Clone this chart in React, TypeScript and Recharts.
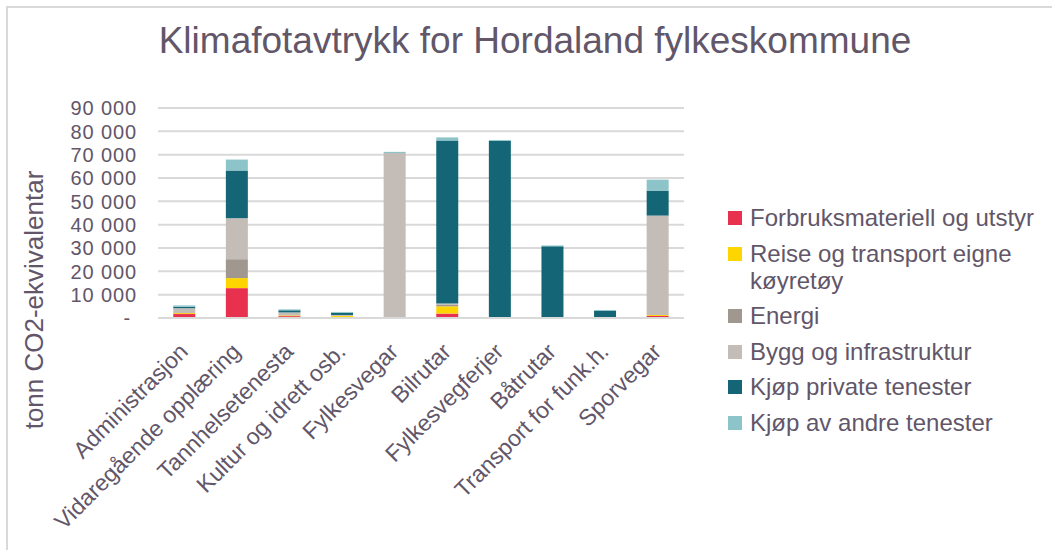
import { BarChart, Bar, XAxis, YAxis, CartesianGrid } from "recharts";

const categories = [
  "Administrasjon",
  "Vidaregående opplæring",
  "Tannhelsetenesta",
  "Kultur og idrett osb.",
  "Fylkesvegar",
  "Bilrutar",
  "Fylkesvegferjer",
  "Båtrutar",
  "Transport for funk.h.",
  "Sporvegar",
];

const forbruk = [1700, 12800, 800, 400, 0, 1900, 0, 0, 0, 900];
const reise = [400, 4300, 300, 500, 0, 3100, 0, 0, 0, 400];
const energi = [300, 8100, 100, 0, 0, 600, 0, 0, 0, 0];
const bygg = [1800, 17500, 1200, 400, 70700, 600, 300, 300, 200, 42600];
const kjopPrivate = [600, 20500, 900, 900, 0, 69900, 75600, 30400, 2800, 10700];
const kjopAndre = [600, 4700, 400, 400, 500, 1300, 400, 400, 400, 4700];

const yTicks = [0, 10000, 20000, 30000, 40000, 50000, 60000, 70000, 80000, 90000];

const series = [
  { key: "forbruk", name: "Forbruksmateriell og utstyr", color: "#e8314f", values: forbruk },
  { key: "reise", name: "Reise og transport eigne køyretøy", color: "#ffd500", values: reise },
  { key: "energi", name: "Energi", color: "#a0978f", values: energi },
  { key: "bygg", name: "Bygg og infrastruktur", color: "#c4bcb6", values: bygg },
  { key: "kjopPrivate", name: "Kjøp private tenester", color: "#146677", values: kjopPrivate },
  { key: "kjopAndre", name: "Kjøp av andre tenester", color: "#8cc4c9", values: kjopAndre },
];

const data = categories.map((name, i) => {
  const row: any = { name };
  series.forEach((s) => (row[s.key] = s.values[i]));
  return row;
});

const TEXT = "#625669";
const FONT = "'Liberation Sans', Arial, sans-serif";
const GRID = "#d9d9d9";

const fmt = (v: number) => (v === 0 ? "-" : String(v).replace(/\B(?=(\d{3})+(?!\d))/g, " "));

const XTick = ({ x, y, payload }: any) => {
  const ax = x + 5;
  const ay = y + 35;
  return (
    <text x={ax} y={ay} transform={`rotate(-45, ${ax}, ${ay})`} textAnchor="end" fill={TEXT} fontSize={23} fontFamily={FONT}>
      {payload.value}
    </text>
  );
};

// ticks are only ~23px apart, so keep the font a bit smaller and widen it with spacing
const YTick = ({ x, y, payload }: any) => (
  <text
    x={x - (payload.value === 0 ? 6 : 0)}
    y={y}
    dy="0.36em"
    textAnchor="end"
    fill={TEXT}
    fontSize={20}
    letterSpacing={0.9}
    fontFamily={FONT}
  >
    {fmt(payload.value)}
  </text>
);

// legend kept outside the chart so it doesn't eat into the plot area
const LegendBox = () => (
  <div style={{ position: "absolute", left: 728, top: 204, width: 320, fontFamily: FONT, fontSize: 24, color: TEXT, lineHeight: "27px" }}>
    {series.map((s) => (
      <div key={s.key} style={{ display: "flex", alignItems: "flex-start", marginBottom: 8.5 }}>
        <span style={{ width: 14, height: 14, background: s.color, marginTop: 7, marginRight: 8, flex: "none" }} />
        <span style={{ width: 295 }}>{s.name}</span>
      </div>
    ))}
  </div>
);

export default function App() {
  return (
    <div style={{ position: "absolute", left: 0, top: 0, width: 1052, height: 550, overflow: "hidden", background: "#fff" }}>
      <div
        style={{
          position: "absolute",
          left: 6,
          top: 6,
          width: 1100,
          height: 600,
          borderLeft: `2px solid ${GRID}`,
          borderTop: `2px solid ${GRID}`,
        }}
      />
      <div
        style={{
          position: "absolute",
          left: 0,
          top: 22,
          width: 1052,
          paddingLeft: 18,
          boxSizing: "border-box",
          textAlign: "center",
          fontFamily: FONT,
          fontSize: 37,
          lineHeight: "37px",
          color: TEXT,
        }}
      >
        Klimafotavtrykk for Hordaland fylkeskommune
      </div>
      <div style={{ position: "absolute", left: 0, top: 0 }}>
        <BarChart
          width={1052}
          height={550}
          data={data}
          margin={{ top: 108, right: 368, left: 0, bottom: 0 }}
          barCategoryGap="29%"
        >
          <CartesianGrid vertical={false} stroke={GRID} strokeWidth={2} />
          <XAxis
            dataKey="name"
            interval={0}
            height={232}
            tick={<XTick />}
            tickLine={false}
            tickSize={0}
            tickMargin={0}
            axisLine={{ stroke: GRID, strokeWidth: 2 }}
          />
          <YAxis
            width={158}
            domain={[0, 90000]}
            ticks={yTicks}
            interval={0}
            tick={<YTick />}
            tickLine={false}
            tickSize={0}
            tickMargin={21}
            axisLine={false}
            label={{
              content: () => (
                <text
                  x={34}
                  y={300}
                  transform="rotate(-90, 34, 300)"
                  textAnchor="middle"
                  dominantBaseline="central"
                  fill={TEXT}
                  fontSize={26}
                  fontFamily={FONT}
                >
                  tonn CO2-ekvivalentar
                </text>
              ),
            }}
          />
          {series.map((s) => (
            <Bar key={s.key} dataKey={s.key} name={s.name} stackId="a" fill={s.color} isAnimationActive={false} />
          ))}
        </BarChart>
      </div>
      <LegendBox />
    </div>
  );
}
